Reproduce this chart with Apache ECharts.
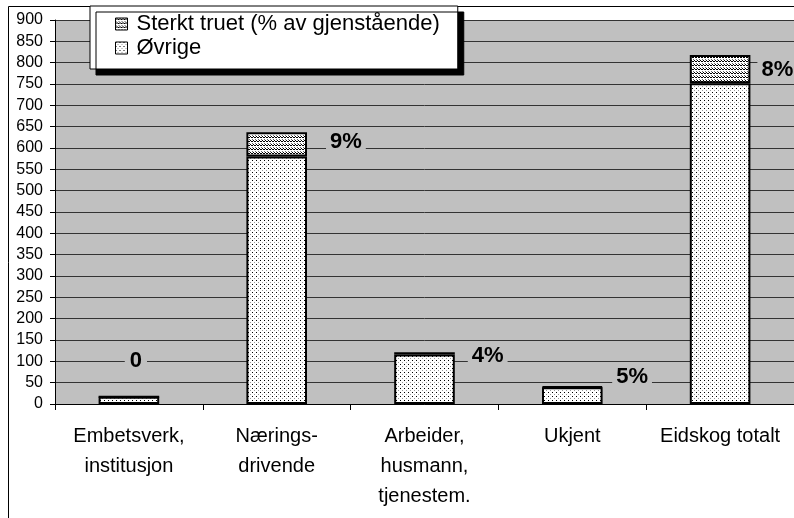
<!DOCTYPE html>
<html>
<head>
<meta charset="utf-8">
<script src="https://cdn.jsdelivr.net/npm/echarts@6/dist/echarts.min.js"></script>
<style>
  html, body { margin: 0; padding: 0; background: #fff; }
  #chart { width: 794px; height: 518px; }
</style>
</head>
<body>
<div id="chart"></div>
<script>
  // data
  const categories = ['Embetsverk,\ninstitusjon', 'Nærings-\ndrivende', 'Arbeider,\nhusmann,\ntjenestem.', 'Ukjent', 'Eidskog totalt']
  const ovrige = [17, 580, 116, 39, 752]
  const sterktTruet = [0, 57, 5, 2, 66]

  const FONT = '"Liberation Sans", Arial, sans-serif'

  // little fill patterns like the old Excel hatching
  function makePattern(w, h, pixels) {
    const c = document.createElement('canvas')
    c.width = w
    c.height = h
    const ctx = c.getContext('2d')
    ctx.fillStyle = '#fff'
    ctx.fillRect(0, 0, w, h)
    pixels.forEach(([x, y, col]) => {
      ctx.fillStyle = col
      ctx.fillRect(x, y, 1, 1)
    })
    return { image: c, repeat: 'repeat' }
  }

  const dotted = makePattern(4, 4, [[0, 0, '#000'], [2, 2, '#999']])
  const weave = makePattern(6, 4, [
    [1, 0, '#000'], [4, 0, '#000'],
    [0, 1, '#000'], [2, 1, '#000'], [3, 1, '#000'], [5, 1, '#000'],
    [0, 3, '#666'], [3, 3, '#666']
  ])

  // label placement per bar (Excel put them a bit all over the place)
  const labelTweaks = [
    { position: 'top', distance: 18, offset: [7, 0], padding: [6, 5] },
    { offset: [14, -2] },
    { offset: [8, 2] },
    { offset: [4, -10] },
    { offset: [2, 1] }
  ]

  function pct(i) {
    if (sterktTruet[i] === 0) return '0'
    return Math.round(sterktTruet[i] / (sterktTruet[i] + ovrige[i]) * 100) + '%'
  }

  const chart = echarts.init(document.getElementById('chart'))

  const option = {
    animation: false,
    textStyle: { fontFamily: FONT },
    graphic: [{
      type: 'rect',
      shape: { x: 8.5, y: 6.5, width: 820, height: 540 },
      style: { fill: 'none', stroke: '#000', lineWidth: 1 },
      z: 0
    }],
    legend: {
      data: ['Sterkt truet (% av gjenstående)', 'Øvrige'],
      orient: 'vertical',
      left: 90,
      top: 6,
      padding: [7, 18, 10, 25],
      itemWidth: 12,
      itemHeight: 12,
      itemGap: 2,
      icon: 'rect',
      itemStyle: { borderColor: '#000', borderWidth: 1 },
      textStyle: { fontSize: 22, color: '#000', fontFamily: FONT, padding: [0, 0, 0, 4] },
      backgroundColor: '#fff',
      borderColor: '#000',
      borderWidth: 1,
      shadowColor: '#000',
      shadowBlur: 0,
      shadowOffsetX: 6,
      shadowOffsetY: 6,
      z: 10
    },
    grid: {
      left: 55,
      right: 0,
      top: 20,
      bottom: 114,
      show: true,
      backgroundColor: '#c0c0c0',
      borderWidth: 0
    },
    xAxis: {
      type: 'category',
      data: categories,
      axisLine: { lineStyle: { color: '#000', width: 1 } },
      axisTick: { show: true, length: 6, lineStyle: { color: '#000' } },
      axisLabel: {
        color: '#000',
        fontSize: 20,
        lineHeight: 30,
        margin: 17,
        interval: 0,
        fontFamily: FONT
      }
    },
    yAxis: {
      type: 'value',
      min: 0,
      max: 900,
      interval: 50,
      axisLine: { show: true, lineStyle: { color: '#000', width: 1 } },
      axisTick: { show: true, length: 5, lineStyle: { color: '#000' } },
      axisLabel: { color: '#000', fontSize: 16, margin: 12, fontFamily: FONT },
      splitLine: { show: true, lineStyle: { color: '#333', width: 1 } }
    },
    series: [
      {
        name: 'Øvrige',
        type: 'bar',
        stack: 'total',
        barWidth: '41%',
        data: ovrige,
        itemStyle: { color: dotted, borderColor: '#000', borderWidth: 2 }
      },
      {
        name: 'Sterkt truet (% av gjenstående)',
        type: 'bar',
        stack: 'total',
        barWidth: '41%',
        data: sterktTruet.map((v, i) => ({
          value: v,
          label: Object.assign({}, labelTweaks[i])
        })),
        itemStyle: { color: weave, borderColor: '#000', borderWidth: 2 },
        label: {
          show: true,
          position: 'right',
          formatter: p => pct(p.dataIndex),
          fontSize: 22,
          fontWeight: 'bold',
          color: '#000',
          fontFamily: FONT,
          backgroundColor: '#c0c0c0',
          padding: [2, 4]
        }
      }
    ]
  }

  chart.setOption(option)
  window.addEventListener('resize', chart.resize)
</script>
</body>
</html>
